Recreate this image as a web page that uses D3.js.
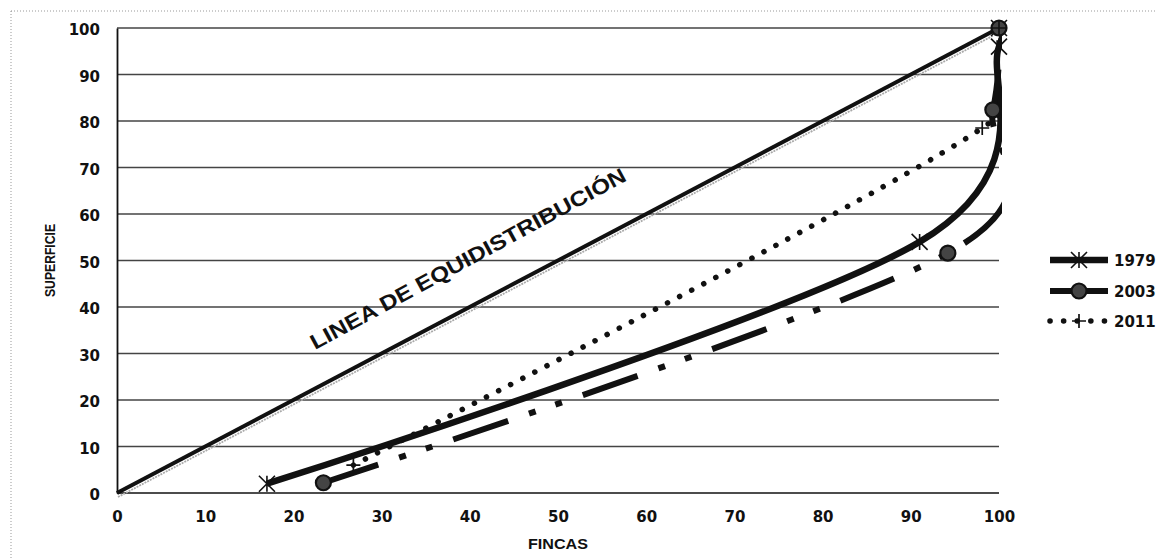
<!DOCTYPE html>
<html>
<head>
<meta charset="utf-8">
<script src="https://cdnjs.cloudflare.com/ajax/libs/d3/7.8.5/d3.min.js"></script>
<style>
  body { margin: 0; background: #fff; }
  svg { display: block; }
</style>
</head>
<body>
<div id="chart"></div>
<script>
// Lorenz curves: farms (x) vs surface (y), cumulative %
var years = ["1979", "2003", "2011"];
var fincas1979 = [17, 91, 100, 100];
var sup1979 = [2, 54, 96, 100];
var fincas2003 = [23.4, 94.2, 99.3, 100];
var sup2003 = [2.2, 51.6, 82.4, 100];
var fincas2011 = [26.8, 98.1, 100];
var sup2011 = [6, 78.5, 100];
var equiX = [0, 100];
var equiY = [0, 100];
var ticks = [0, 10, 20, 30, 40, 50, 60, 70, 80, 90, 100];

var width = 1157, height = 560;
var margin = {left: 117, right: 158, top: 28, bottom: 67};

var svg = d3.select("#chart").append("svg")
    .attr("width", width)
    .attr("height", height);

// dotted outer frame
svg.append("rect")
    .attr("x", 11).attr("y", 11)
    .attr("width", width + 20).attr("height", height + 20)
    .attr("fill", "none")
    .attr("stroke", "#999")
    .attr("stroke-width", 1)
    .attr("stroke-dasharray", "1 2");

var x = d3.scaleLinear().domain([0, 100]).range([margin.left, width - margin.right]);
var y = d3.scaleLinear().domain([0, 100]).range([height - margin.bottom, margin.top]);

// horizontal gridlines
svg.append("g").selectAll("line")
    .data(ticks)
    .join("line")
    .attr("x1", x(0)).attr("x2", x(100))
    .attr("y1", function(d) { return y(d); })
    .attr("y2", function(d) { return y(d); })
    .attr("stroke", d => d === 0 ? "#111" : "#444")
    .attr("stroke-width", 1.5);

// y axis
var yAxis = svg.append("g")
    .attr("transform", "translate(" + x(0) + ",0)")
    .call(d3.axisLeft(y).tickValues(ticks).tickSize(0).tickPadding(17));
yAxis.select(".domain").attr("stroke", "#111").attr("stroke-width", 1.8);
yAxis.selectAll("text")
    .attr("font-family", "DejaVu Sans, Verdana, sans-serif")
    .attr("font-size", 15)
    .attr("font-weight", "600")
    .attr("dy", "0.45em")
    .attr("fill", "#111");

// x axis
var xAxis = svg.append("g")
    .attr("transform", "translate(0," + y(0) + ")")
    .call(d3.axisBottom(x).tickValues(ticks).tickSize(0).tickPadding(18));
xAxis.select(".domain").remove();
xAxis.selectAll("text")
    .attr("font-family", "DejaVu Sans, Verdana, sans-serif")
    .attr("font-size", 15)
    .attr("font-weight", "600")
    .attr("fill", "#111");

svg.append("text")
    .text("FINCAS")
    .attr("x", x(50)).attr("y", 549)
    .attr("text-anchor", "middle")
    .attr("font-family", "Liberation Sans, Arial, sans-serif")
    .attr("font-weight", "bold")
    .attr("font-size", 15)
    .attr("textLength", 60)
    .attr("lengthAdjust", "spacingAndGlyphs")
    .attr("fill", "#111");

svg.append("text")
    .text("SUPERFICIE")
    .attr("transform", "translate(55," + y(50) + ") rotate(-90)")
    .attr("text-anchor", "middle")
    .attr("font-family", "Liberation Sans, Arial, sans-serif")
    .attr("font-weight", "bold")
    .attr("font-size", 14)
    .attr("textLength", 73)
    .attr("lengthAdjust", "spacingAndGlyphs")
    .attr("fill", "#111");

// clip so smoothed curves don't wander past the plot (Excel clips too)
svg.append("clipPath").attr("id", "plotclip")
  .append("rect")
    .attr("x", x(0) - 6).attr("y", y(100) - 6)
    .attr("width", x(100) - x(0) + 9)
    .attr("height", y(0) - y(100) + 12);

var plot = svg.append("g").attr("clip-path", "url(#plotclip)");

function pts(xs, ys) {
    return xs.map(function(v, i) { return [v, ys[i]]; });
}

var straight = d3.line()
    .x(function(d) { return x(d[0]); })
    .y(function(d) { return y(d[1]); });

var smooth = d3.line()
    .x(function(d) { return x(d[0]); })
    .y(function(d) { return y(d[1]); })
    .curve(d3.curveCardinal.tension(0));

// equidistribution line + grey scan shadow
plot.append("path")
    .attr("d", straight(pts(equiX, equiY)))
    .attr("transform", "translate(1,4)")
    .attr("fill", "none")
    .attr("stroke", "#aaa")
    .attr("stroke-width", 1.8)
    .attr("stroke-dasharray", "2 1");
plot.append("path")
    .attr("d", straight(pts(equiX, equiY)))
    .attr("fill", "none")
    .attr("stroke", "#111")
    .attr("stroke-width", 4);

var series = [
    {name: years[0], data: pts(fincas1979, sup1979), width: 6.5, dash: null, cap: "butt", marker: "star"},
    {name: years[1], data: pts(fincas2003, sup2003), width: 6, dash: "58 22 7 21 7 22", cap: "butt", marker: "circle"},
    {name: years[2], data: pts(fincas2011, sup2011), width: 5.5, dash: "0.1 13.5", cap: "round", marker: "plus"}
];

function drawMarker(g, type, cx, cy) {
    if (type === "star") {
        var s = 8;
        g.append("path")
            .attr("d", "M" + (cx - s) + "," + (cy - s) + "L" + (cx + s) + "," + (cy + s) +
                       "M" + (cx - s) + "," + (cy + s) + "L" + (cx + s) + "," + (cy - s) +
                       "M" + cx + "," + (cy - s) + "L" + cx + "," + (cy + s))
            .attr("stroke", "#111").attr("stroke-width", 1.6).attr("fill", "none");
    } else if (type === "circle") {
        g.append("circle")
            .attr("cx", cx).attr("cy", cy).attr("r", 7.5)
            .attr("fill", "#444").attr("stroke", "#111").attr("stroke-width", 2.2);
    } else {
        var p = 7;
        g.append("path")
            .attr("d", "M" + (cx - p) + "," + cy + "L" + (cx + p) + "," + cy +
                       "M" + cx + "," + (cy - p) + "L" + cx + "," + (cy + p))
            .attr("stroke", "#111").attr("stroke-width", 1.7).attr("fill", "none");
    }
}

series.forEach(function(s) {
    plot.append("path")
        .attr("d", smooth(s.data))
        .attr("fill", "none")
        .attr("stroke", "#111")
        .attr("stroke-width", s.width)
        .attr("stroke-linecap", s.cap)
        .attr("stroke-dasharray", s.dash);
    var mg = svg.append("g");
    s.data.forEach(function(d) {
        drawMarker(mg, s.marker, x(d[0]), y(d[1]));
    });
});

// label along the equidistribution line
svg.append("text")
    .text("LINEA DE EQUIDISTRIBUCIÓN")
    .attr("transform", "translate(315,350) rotate(-28.5)")
    .attr("font-family", "Liberation Sans, Arial, sans-serif")
    .attr("font-weight", "bold")
    .attr("font-size", 21)
    .attr("textLength", 356)
    .attr("lengthAdjust", "spacingAndGlyphs")
    .attr("fill", "#111");

// legend
var legend = svg.append("g");
var rowY = [260, 291, 321];
series.forEach(function(s, i) {
    var ly = rowY[i];
    legend.append("line")
        .attr("x1", 1050).attr("x2", 1108)
        .attr("y1", ly).attr("y2", ly)
        .attr("stroke", "#111")
        .attr("stroke-width", s.width)
        .attr("stroke-linecap", s.cap)
        .attr("stroke-dasharray", i === 1 ? null : s.dash);
    drawMarker(legend, s.marker, 1079, ly);
    legend.append("text")
        .text(s.name)
        .attr("x", 1114).attr("y", ly + 6)
        .attr("font-family", "DejaVu Sans, Verdana, sans-serif")
        .attr("font-size", 15)
        .attr("font-weight", "600")
        .attr("fill", "#111");
});
</script>
</body>
</html>
